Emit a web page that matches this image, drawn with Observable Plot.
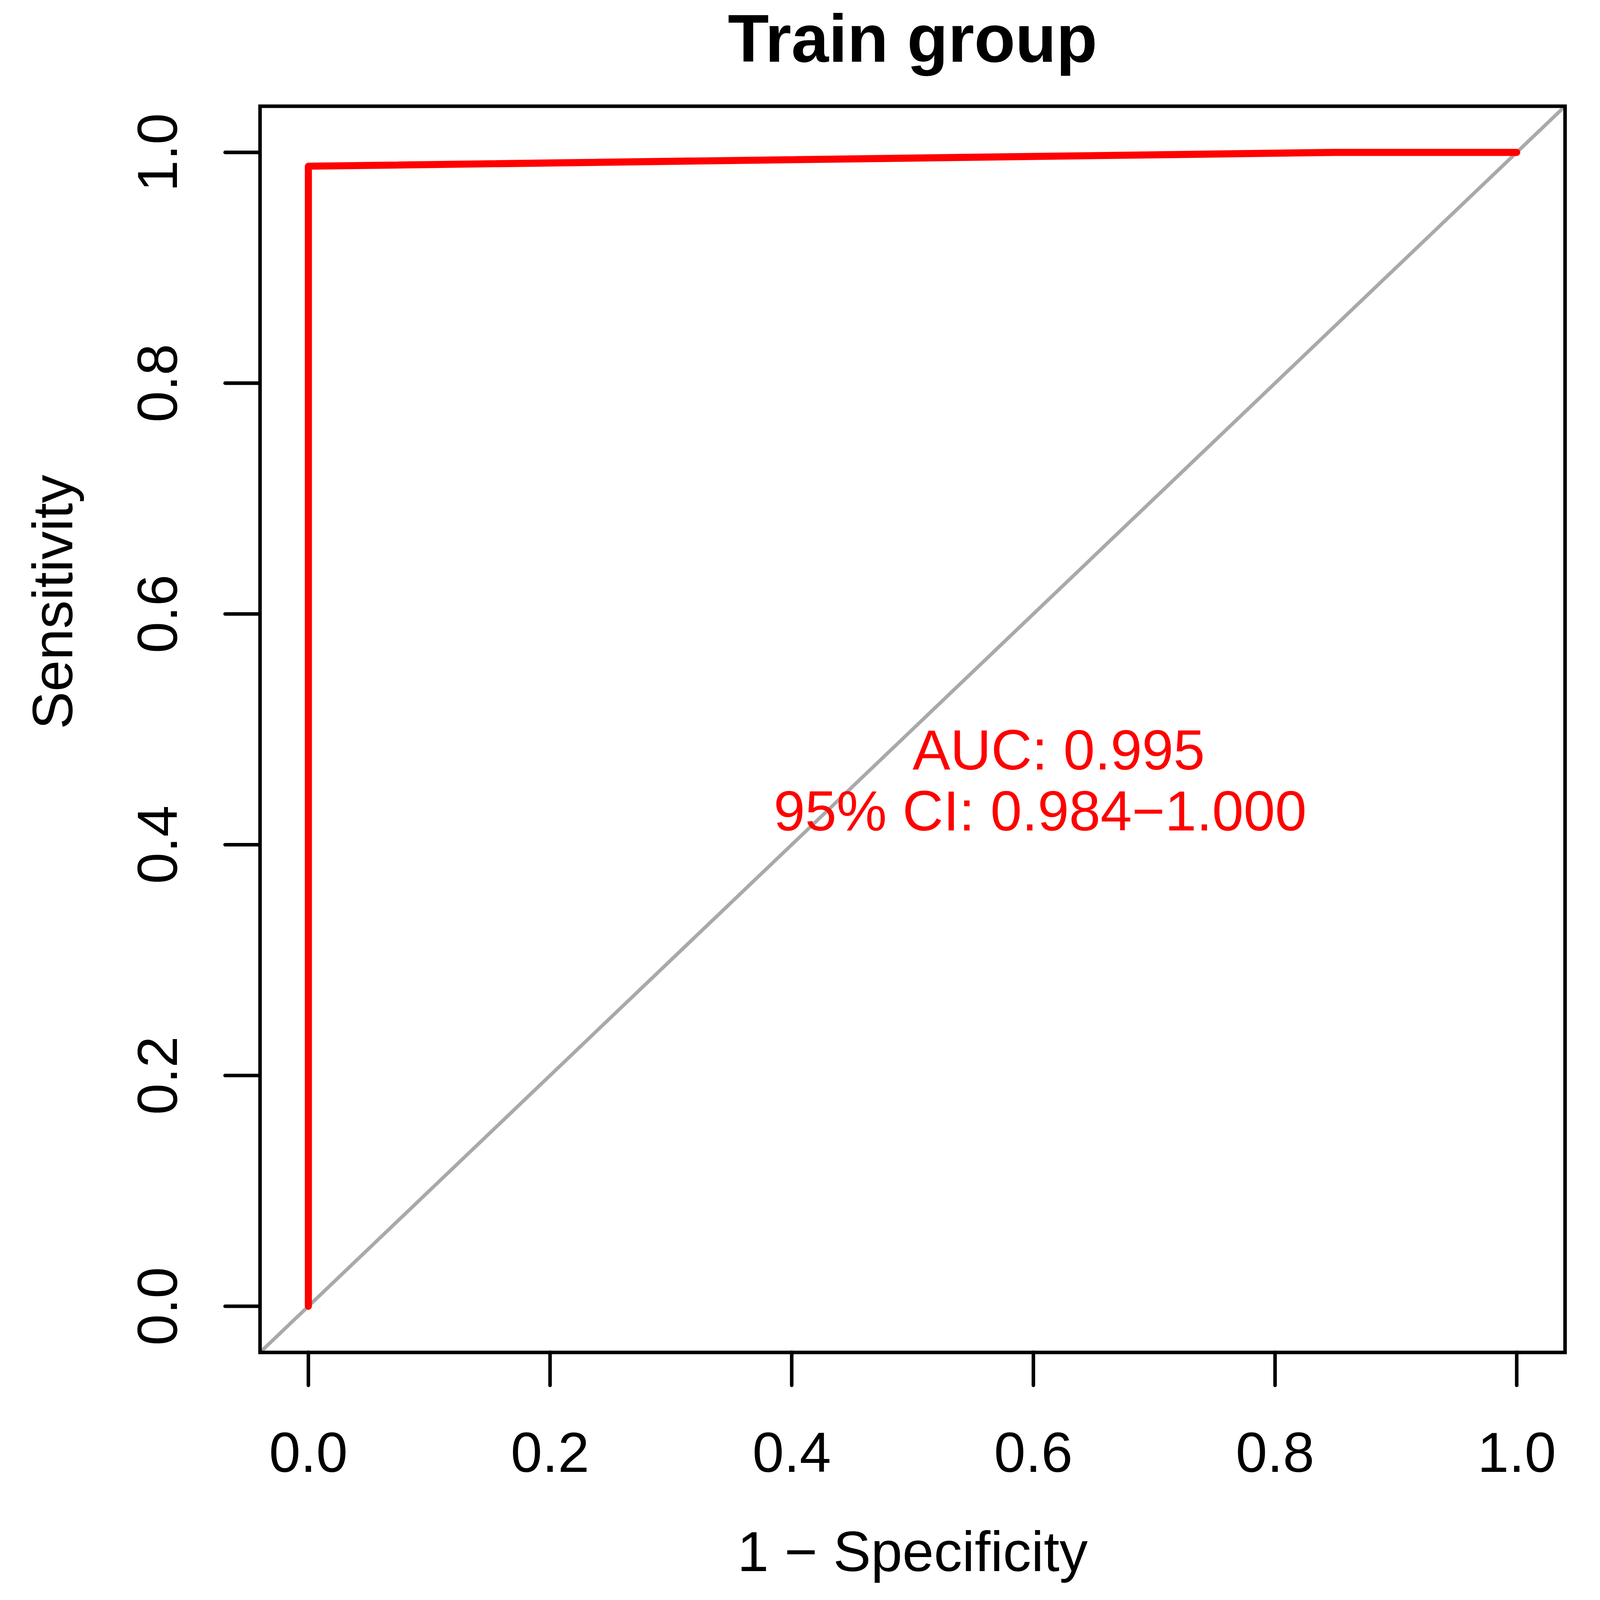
<!DOCTYPE html>
<html>
<head>
<meta charset="utf-8">
<script src="https://cdn.jsdelivr.net/npm/d3@7"></script>
<script src="https://cdn.jsdelivr.net/npm/@observablehq/plot@0.6"></script>
<style>
html, body { margin: 0; padding: 0; background: #ffffff; overflow: hidden; }
#chart svg { display: block; }
</style>
</head>
<body>
<div id="chart"></div>
<script>
// ---- data ----
const fpr = [0, 0, 0.85, 1];          // 1 - Specificity
const tpr = [0, 0.988, 1, 1];         // Sensitivity
const xTicks = [0, 0.2, 0.4, 0.6, 0.8, 1.0];
const yTicks = [0, 0.2, 0.4, 0.6, 0.8, 1.0];
const axisDomain = [-0.04, 1.04];
const titleText = "Train group";
const xLabel = "1 \u2212 Specificity";
const yLabel = "Sensitivity";
const annotText = ["AUC: 0.995", "95% CI: 0.984\u22121.000"];
const annotX = [0.5, 0.385];
const annotY = [0.5, 0.447];

// ---- layout (reference is 4144x4346; the viewport is 4096x4096) ----
const W = 4096, H = 4096;
const sx = W / 4144, sy = H / 4346, sf = Math.sqrt(sx * sy);
const mL = 673 * sx, mR = 91 * sx, mT = 288 * sy, mB = 673 * sy;
const fs = 150 * sf, fsTitle = 172;
const lw = 9.4 * sf;
const tickX = 90 * sy, tickY = 90 * sx;
const frameBottom = H - mB;
const font = "'Liberation Sans', Arial, Helvetica, sans-serif";

const roc = fpr.map((x, i) => ({x, y: tpr[i]}));
const diag = axisDomain.map(v => ({v}));
const annot = annotText.map((t, i) => ({t, x: annotX[i], y: annotY[i]}));
const fmt = d3.format(".1f");

const chart = Plot.plot({
  width: W,
  height: H,
  marginLeft: mL,
  marginRight: mR,
  marginTop: mT,
  marginBottom: mB,
  style: {fontFamily: font, background: "white", color: "black"},
  x: {domain: axisDomain, label: null},
  y: {domain: axisDomain, label: null},
  marks: [
    Plot.line(diag, {x: "v", y: "v", stroke: "#A9A9A9", strokeWidth: lw, clip: true}),
    Plot.line(roc, {x: "x", y: "y", stroke: "#FF0000", strokeWidth: 2 * lw, strokeLinecap: "round", strokeLinejoin: "round"}),
    Plot.frame({stroke: "black", strokeWidth: lw}),
    Plot.axisX({ticks: xTicks, tickSize: tickX, tickPadding: 3997 * sy - frameBottom - tickX - 0.71 * fs, tickFormat: fmt, fontSize: fs, strokeWidth: lw, strokeLinecap: "round", label: null}),
    Plot.axisY({ticks: yTicks, tickSize: tickY, tickPadding: mL - 458 * sx - tickY, tickRotate: -90, tickFormat: fmt, fontSize: fs, strokeWidth: lw, strokeLinecap: "round", label: null}),
    Plot.text(annot, {x: "x", y: "y", text: "t", textAnchor: "start", lineAnchor: "top", fill: "#FF0000", fontSize: fs}),
    Plot.text([titleText], {text: d => d, frameAnchor: "top", dy: 157 - mT, lineAnchor: "bottom", fontSize: fsTitle, fontWeight: "bold", fill: "black"}),
    Plot.text([xLabel], {text: d => d, frameAnchor: "bottom", dy: 4267 * sy - frameBottom, lineAnchor: "bottom", fontSize: fs, fill: "black"}),
    Plot.text([yLabel], {text: d => d, frameAnchor: "left", dx: 187 * sx - mL, rotate: -90, lineAnchor: "bottom", fontSize: fs, fill: "black"})
  ]
});
document.getElementById("chart").appendChild(chart);
</script>
</body>
</html>
